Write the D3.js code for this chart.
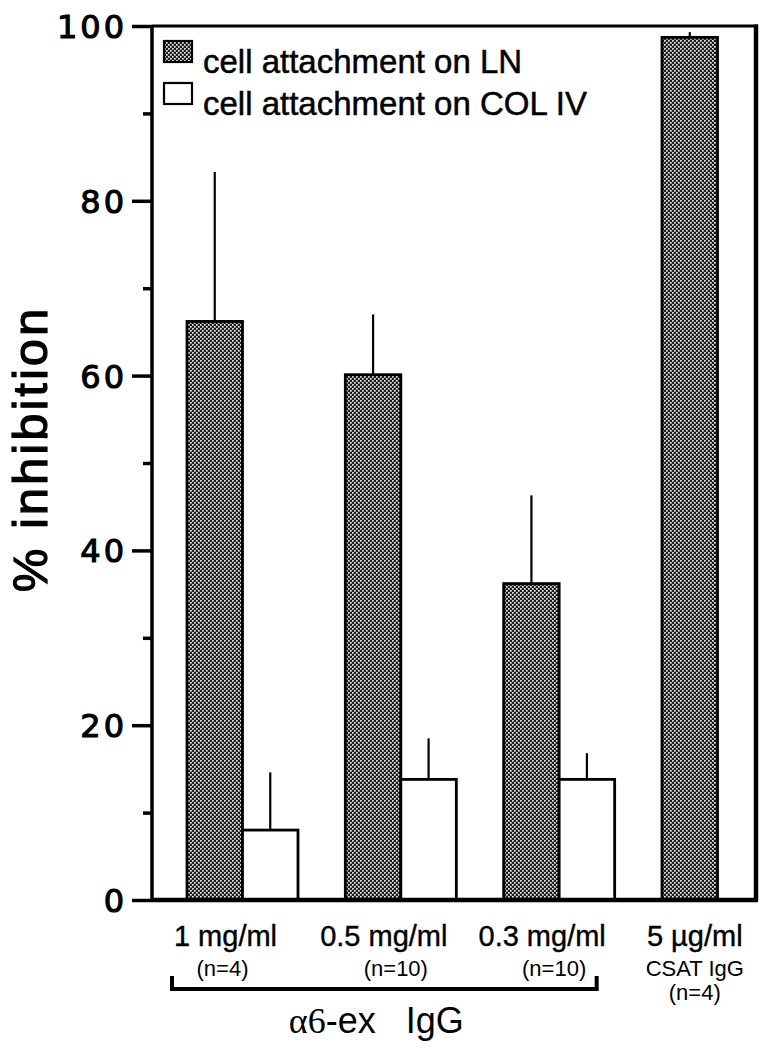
<!DOCTYPE html>
<html><head><meta charset="utf-8">
<script src="https://cdn.jsdelivr.net/npm/d3@7"></script>
<style>body{margin:0;background:#fff}svg{display:block}</style>
</head><body>
<script>
const groups = ["1 mg/ml", "0.5 mg/ml", "0.3 mg/ml", "5 \u00b5g/ml"];
const nLabels = ["(n=4)", "(n=10)", "(n=10)", "CSAT IgG"];
const series = ["LN", "COL"];
const lnValues = [66.2, 60.1, 36.2, 98.7];
const lnErrors = [17.1, 6.9, 10.1, 0.6];
const colValues = [8.0, 13.8, 13.8, null];
const colErrors = [6.6, 4.7, 3.0, null];
const majorTicks = [0, 20, 40, 60, 80, 100];
const minorTicks = [10, 30, 50, 70, 90];
const legendLabels = ["cell attachment on LN", "cell attachment on COL IV"];

(function () {
const W = 766, H = 1050;
const svg = d3.select("body").append("svg").attr("width", W).attr("height", H);
const defs = svg.append("defs");
const pat = defs.append("pattern").attr("id", "stip").attr("patternUnits", "userSpaceOnUse")
  .attr("width", 4).attr("height", 4);
pat.append("rect").attr("width", 4).attr("height", 4).attr("fill", "#1c1c1c");
pat.append("rect").attr("width", 1.7).attr("height", 1.7).attr("fill", "#e8e8e8");
pat.append("rect").attr("x", 2).attr("y", 2).attr("width", 1.7).attr("height", 1.7).attr("fill", "#e8e8e8");

const pl = 152, pr = 756, pt = 26, pb = 900;
const y = d3.scaleLinear().domain([0, 100]).range([pb, pt]);
const x0 = d3.scaleBand().domain(groups).range([187, 773]).paddingInner(0.299).paddingOuter(0);
const x1 = d3.scaleBand().domain(series).range([0, x0.bandwidth()]);

const data = [];
groups.forEach((g, i) => {
  data.push({g, s: "LN", v: lnValues[i], e: lnErrors[i]});
  if (colValues[i] != null) data.push({g, s: "COL", v: colValues[i], e: colErrors[i]});
});

// error bars
svg.append("g").selectAll("line").data(data).join("line")
  .attr("x1", d => x0(d.g) + x1(d.s) + x1.bandwidth() / 2)
  .attr("x2", d => x0(d.g) + x1(d.s) + x1.bandwidth() / 2)
  .attr("y1", d => y(d.v)).attr("y2", d => y(d.v + d.e))
  .attr("stroke", "#000").attr("stroke-width", 2.2);

// bars
svg.append("g").selectAll("rect").data(data).join("rect")
  .attr("x", d => x0(d.g) + x1(d.s))
  .attr("y", d => y(d.v))
  .attr("width", x1.bandwidth())
  .attr("height", d => y(0) - y(d.v))
  .attr("fill", d => d.s === "LN" ? "url(#stip)" : "#fff")
  .attr("stroke", "#000").attr("stroke-width", 2.8);

// frame
svg.append("line").attr("x1", pl).attr("x2", pr + 2).attr("y1", pt).attr("y2", pt)
  .attr("stroke", "#000").attr("stroke-width", 3);
svg.append("line").attr("x1", pr).attr("x2", pr).attr("y1", pt - 1.5).attr("y2", pb)
  .attr("stroke", "#000").attr("stroke-width", 4.5);
svg.append("line").attr("x1", pl).attr("x2", pr + 2).attr("y1", pb).attr("y2", pb)
  .attr("stroke", "#000").attr("stroke-width", 4.5);

// y axis
const ax = svg.append("g").attr("transform", `translate(${pl},0)`)
  .call(d3.axisLeft(y).tickValues(majorTicks).tickSize(20).tickPadding(5).tickFormat(d3.format("d")));
ax.select(".domain").attr("stroke-width", 3.5).attr("d", `M0,${pt}V${pb + 2}`);
ax.selectAll(".tick line").attr("stroke-width", 3.5);
ax.selectAll(".tick text").attr("font-family", "DejaVu Sans")
  .attr("font-size", 32).attr("letter-spacing", 3).attr("fill", "#000")
  .attr("stroke", "#000").attr("stroke-width", 1.1).attr("dy", "0.36em");
const axm = svg.append("g").attr("transform", `translate(${pl},0)`)
  .call(d3.axisLeft(y).tickValues(minorTicks).tickSize(9).tickFormat(""));
axm.select(".domain").remove();
axm.selectAll(".tick line").attr("stroke-width", 3.5);

// y title
svg.append("text").attr("transform", `translate(47,449) rotate(-90)`)
  .attr("text-anchor", "middle").attr("font-family", "Liberation Sans").attr("font-size", 49)
  .attr("letter-spacing", 3).attr("stroke", "#000").attr("stroke-width", 1.2).text("% inhibition");

// legend
const lg = svg.append("g");
legendLabels.forEach((t, i) => {
  const yy = 41 + i * 42;
  lg.append("rect").attr("x", 164).attr("y", yy).attr("width", 28).attr("height", 21)
    .attr("fill", i === 0 ? "url(#stip)" : "#fff").attr("stroke", "#000").attr("stroke-width", 2.2);
  lg.append("text").attr("x", 203).attr("y", yy + 32).attr("font-family", "Liberation Sans")
    .attr("font-size", 33).attr("stroke", "#000").attr("stroke-width", 0.5).text(t);
});

// x labels
const labelX = (g, i) => i < 3 ? x0(g) + x0.bandwidth() / 2 - 17 : x0(g) + x1("LN") + x1.bandwidth() / 2 + 5;
svg.append("g").selectAll("text").data(groups).join("text")
  .attr("x", (g, i) => labelX(g, i)).attr("y", 946)
  .attr("text-anchor", "middle").attr("font-family", "Liberation Sans").attr("font-size", 29)
  .attr("stroke", "#000").attr("stroke-width", 0.4)
  .text(d => d);
svg.append("g").selectAll("text").data(nLabels).join("text")
  .attr("x", (g, i) => labelX(groups[i], i) + (i === 0 ? -3 : i < 3 ? 12 : 0)).attr("y", 976)
  .attr("text-anchor", "middle").attr("font-family", "Liberation Sans").attr("font-size", 22)
  .text(d => d);
svg.append("text").attr("x", labelX(groups[3], 3)).attr("y", 1000)
  .attr("text-anchor", "middle").attr("font-family", "Liberation Sans").attr("font-size", 22)
  .text("(n=4)");

// bracket
const bx1 = x0(groups[0]) - 15, bx2 = x0(groups[2]) + x0.bandwidth() - 18;
svg.append("path").attr("d", `M${bx1},976V989H${bx2}V976`).attr("fill", "none")
  .attr("stroke", "#000").attr("stroke-width", 4);

// group label
const gl = svg.append("text").attr("x", (bx1 + bx2) / 2 - 8).attr("y", 1033).attr("text-anchor", "middle")
  .attr("font-size", 36);
gl.append("tspan").attr("font-family", "Liberation Serif").text("\u03b16");
gl.append("tspan").attr("font-family", "Liberation Sans").text("-ex\u00a0\u00a0\u00a0IgG");
})();
</script>
</body></html>
